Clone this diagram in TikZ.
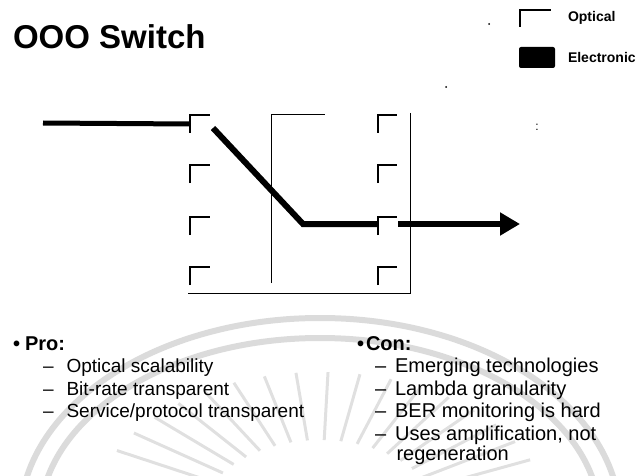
\documentclass[tikz,border=0pt]{standalone}
\usepackage{fontspec}
\setmainfont{Liberation Sans}
\usetikzlibrary{arrows.meta}

\tikzset{
  port/.style={minimum width=20pt, minimum height=18pt, inner sep=0pt, outer sep=0pt},
  portline/.style={line width=1.5pt},
  frame/.style={line width=1pt},
  signal/.style={line width=6pt, line join=miter},
  feed/.style={line width=5pt},
  seal/.style={line width=6pt, black!14},
  ray/.style={line width=3pt, black!12},
  txt/.style={anchor=base west, inner sep=0pt, outer sep=0pt},
  head/.style={txt, font=\fontsize{20}{24}\selectfont\bfseries},
  item/.style={txt, font=\fontsize{20}{24}\selectfont},
  legend/.style={txt, font=\fontsize{14}{16}\selectfont\bfseries},
}

\begin{document}
\begin{tikzpicture}[x=1pt, y=-1pt]
\useasboundingbox (0,0) rectangle (640,476);

% faint seal in the background
\begin{scope}
  \clip (0,0) rectangle (640,476);
  \draw[seal] (320,520) ellipse [x radius=300pt, y radius=202pt];
  \draw[seal] (320,520) ellipse [x radius=280pt, y radius=182pt];
  \foreach \a in {24,32,...,156}
    \draw[ray] ({320+120*cos(\a)},{520-80*sin(\a)}) -- ({320+230*cos(\a)},{520-148*sin(\a)});
\end{scope}

% title
\node[txt, font=\fontsize{33}{40}\selectfont\bfseries] (title) at (13,49) {OOO Switch};

% legend
\node[circle, fill, inner sep=0pt, minimum size=2pt] (dotA) at (489,24) {};
\node[port, minimum width=31pt, minimum height=17pt] (legOpt) at (535.5,18.5) {};
\draw[portline] (legOpt.south west) -- (legOpt.north west) -- (legOpt.north east);
\node[legend] (optLabel) at (568,22) {Optical};
\node[fill, rounded corners=2pt, minimum width=36pt, minimum height=21pt, inner sep=0pt] (legEl) at (537,57.5) {};
\node[legend] (elLabel) at (568,63) {Electronic};
\node[circle, fill, inner sep=0pt, minimum size=2pt] (dotB) at (446,87) {};
\node[inner sep=0pt, font=\fontsize{12}{12}\selectfont] (colon) at (537,127) {:};

% input and output ports
\foreach \i/\y in {1/124,2/174,3/226,4/276} {
  \node[port] (L\i) at (200,\y) {};
  \node[port, minimum width=19pt] (R\i) at (387.5,\y) {};
}
\foreach \n in {L1,L2,L3,L4,R1,R2,R3,R4}
  \draw[portline] (\n.south west) -- (\n.north west) -- (\n.north east);

% switch fabric outline
\draw[frame] (271.7,283) -- (271.7,115) -- (325,115);
\draw[frame] (410,113) -- (410,293) -- (188,293);

% light path through the switch
\coordinate (src) at (43,123);
\coordinate (bend) at (303,224);
\coordinate (sink) at (520,224);
\draw[feed] (src) -- (L1.west);
\draw[signal] ([shift={(3,4)}]L1.east) -- (bend) -- (R3.west |- bend);
\draw[signal, -{Triangle[length=20pt, width=22pt]}] ([xshift=1pt]R3.east |- bend) -- (sink);

% pros
\node[head] (pro) at (13,350) {\textbullet\hspace{5pt}Pro:};
\foreach \t [count=\k] in {Optical scalability, Bit-rate transparent, Service/protocol transparent}
  \node[item, font=\fontsize{19}{23}\selectfont] (pro\k) at (43,{350+22.5*\k}) {–\hspace{13pt}\t};

% cons
\node[head] (con) at (357,350) {\textbullet\hspace{2pt}Con:};
\foreach \t [count=\k] in {Emerging technologies, Lambda granularity, BER monitoring is hard, {Uses amplification, not}}
  \node[item] (con\k) at (375,{350+22.5*\k}) {–\hspace{9pt}\t};
\node[item] (con5) at (396.5,{350+22.5*5-2}) {regeneration};
\end{tikzpicture}
\end{document}
